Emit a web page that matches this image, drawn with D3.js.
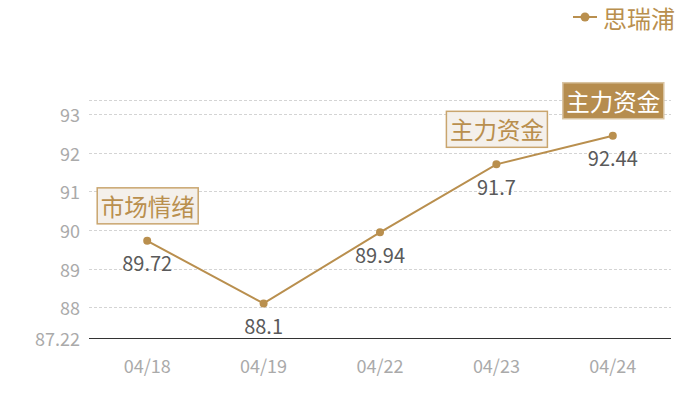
<!DOCTYPE html>
<html>
<head>
<meta charset="utf-8">
<script src="https://cdn.jsdelivr.net/npm/d3@7"></script>
<style>
  body { margin: 0; background: #fff; }
  text { font-family: "Noto Sans CJK SC", "Noto Sans", sans-serif; }
</style>
</head>
<body>
<script>
// data
var dates = ["04/18", "04/19", "04/22", "04/23", "04/24"];
var values = [89.72, 88.1, 89.94, 91.7, 92.44];
var yTicks = [88, 89, 90, 91, 92, 93];
var seriesName = "思瑞浦";
// annotations: index of point, text, dark style or not
var notes = [
  { i: 0, text: "市场情绪", dark: false },
  { i: 3, text: "主力资金", dark: false },
  { i: 4, text: "主力资金", dark: true }
];

var W = 700, H = 400;
var gold = "#b98f4e";
var svg = d3.select("body").append("svg").attr("width", W).attr("height", H);

var yMin = d3.min(values) * 0.99, yMax = d3.max(values) * 1.01;

var x = d3.scaleBand().domain(dates).range([89, 671]);
var y = d3.scaleLinear().domain([yMin, yMax]).range([337.5, 100]);

// gridlines
svg.selectAll("line.grid")
   .data(yTicks.concat([yMax]))
   .enter().append("line")
   .attr("class", "grid")
   .attr("x1", 89).attr("x2", 671)
   .attr("y1", function (d) { return Math.round(y(d)) + 0.5; })
   .attr("y2", function (d) { return Math.round(y(d)) + 0.5; })
   .attr("stroke", "#d4d4d4")
   .attr("stroke-dasharray", "3,2");

// baseline
svg.append("line")
   .attr("x1", 89).attr("x2", 671)
   .attr("y1", Math.round(y(yMin)) + 0.5).attr("y2", Math.round(y(yMin)) + 0.5)
   .attr("stroke", "#333").attr("stroke-width", 1.2);

// y labels
svg.selectAll("text.ytick")
   .data(yTicks.concat([yMin]))
   .enter().append("text")
   .attr("class", "ytick")
   .attr("x", 80)
   .attr("y", function (d) { return y(d); })
   .attr("text-anchor", "end")
   .attr("dominant-baseline", "central")
   .attr("fill", "#aaa")
   .attr("font-size", 18)
   .text(function (d) { return d === yMin ? d3.format(".2f")(d) : d; });

// x labels
var xAxis = svg.append("g").attr("transform", "translate(0," + y(yMin) + ")")
   .call(d3.axisBottom(x).tickSize(0).tickPadding(23));
xAxis.select(".domain").remove();
xAxis.selectAll("text")
   .attr("fill", "#aaa")
   .attr("font-size", 18)
   .style("font-family", '"Noto Sans CJK SC", "Noto Sans", sans-serif');

function cx(i) { return x(dates[i]) + x.bandwidth() / 2; }

// line
var line = d3.line()
   .x(function (d, i) { return cx(i); })
   .y(function (d) { return y(d); });
svg.append("path")
   .datum(values)
   .attr("d", line)
   .attr("fill", "none")
   .attr("stroke", gold)
   .attr("stroke-width", 2);

svg.selectAll("circle.pt")
   .data(values)
   .enter().append("circle")
   .attr("class", "pt")
   .attr("cx", function (d, i) { return cx(i); })
   .attr("cy", function (d) { return y(d); })
   .attr("r", 4)
   .attr("fill", gold);

// value labels
svg.selectAll("text.val")
   .data(values)
   .enter().append("text")
   .attr("class", "val")
   .attr("x", function (d, i) { return cx(i); })
   .attr("y", function (d) { return y(d) + 22; })
   .attr("text-anchor", "middle")
   .attr("dominant-baseline", "central")
   .attr("fill", "#5a5a5a")
   .attr("font-size", 20)
   .text(function (d) { return d; });

// annotation boxes
var note = svg.selectAll("g.note")
   .data(notes)
   .enter().append("g")
   .attr("class", "note")
   .attr("transform", function (d) {
     return "translate(" + cx(d.i) + "," + (y(values[d.i]) - 35) + ")";
   });
note.append("rect")
   .attr("x", -50).attr("y", -18)
   .attr("width", 101).attr("height", 36)
   .attr("fill", function (d) { return d.dark ? "#b68d4f" : "#f4f0eb"; })
   .attr("stroke", function (d) { return d.dark ? "#d9c4a2" : "#c9a56e"; })
   .attr("stroke-width", 1.5);
note.append("text")
   .attr("x", 0.5).attr("y", 0)
   .attr("text-anchor", "middle")
   .attr("dominant-baseline", "central")
   .attr("font-size", 23.5)
   .attr("fill", function (d) { return d.dark ? "#fff" : gold; })
   .text(function (d) { return d.text; });

// legend
var lg = svg.append("g").attr("transform", "translate(573,17)");
lg.append("line").attr("x1", 0).attr("x2", 24).attr("y1", 0).attr("y2", 0)
   .attr("stroke", gold).attr("stroke-width", 2);
lg.append("circle").attr("cx", 12).attr("cy", 0).attr("r", 4.5).attr("fill", gold);
lg.append("text").attr("x", 30).attr("y", 0)
   .attr("dominant-baseline", "central")
   .attr("font-size", 24).attr("fill", gold)
   .text(seriesName);
</script>
</body>
</html>
